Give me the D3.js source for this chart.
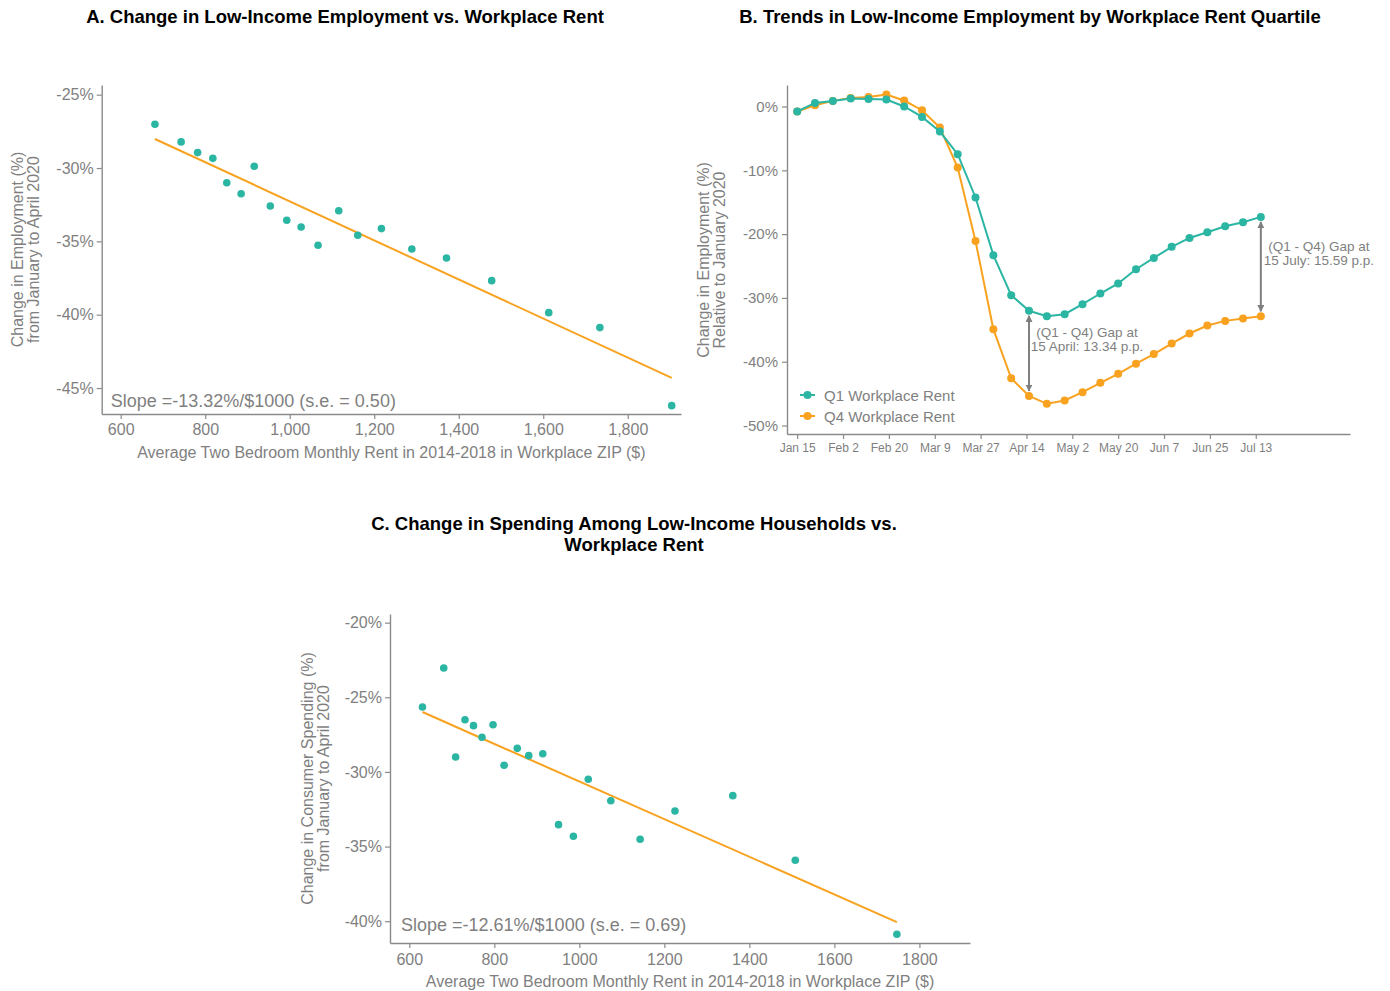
<!DOCTYPE html>
<html>

<head>
  <meta charset='utf-8'>
  <script type="text/javascript" src="https://cdn.jsdelivr.net/npm/d3@7/dist/d3.min.js"></script>
  <style>
    body { margin: 0; background: #fff; }
    text { font-family: "Liberation Sans", Arial, sans-serif; }
  </style>
</head>

<body>
</body>
<script>
  // panel A: low-income employment change vs workplace rent (binned)
  let rentA = [681, 743, 782, 818, 851, 885, 916, 954, 993, 1027, 1067, 1116, 1161, 1217, 1289, 1371, 1478, 1613, 1734, 1904]
  let empA = [-27.02, -28.22, -28.95, -29.34, -31.0, -31.75, -29.88, -32.59, -33.56, -34.02, -35.27, -32.91, -34.58, -34.13, -35.52, -36.13, -37.68, -39.86, -40.88, -46.2]
  let slopeA = -13.32
  let seA = 0.50
  let interceptA = -18.95

  // panel C: low-income spending change vs workplace rent
  let rentC = [631, 681, 709, 731, 751, 771, 797, 823, 854, 881, 914, 951, 986, 1021, 1074, 1143, 1225, 1361, 1508, 1747]
  let spendC = [-25.65, -23.04, -29.0, -26.5, -26.9, -27.68, -26.84, -29.55, -28.42, -28.91, -28.78, -33.53, -34.31, -30.49, -31.93, -34.51, -32.62, -31.59, -35.92, -40.87]
  let slopeC = -12.61
  let seC = 0.69
  let interceptC = -18.03

  // panel B: weekly employment by rent quartile
  let datesB = ["2020-01-15", "2020-01-22", "2020-01-29", "2020-02-05", "2020-02-12", "2020-02-19", "2020-02-26",
    "2020-03-04", "2020-03-11", "2020-03-18", "2020-03-25", "2020-04-01", "2020-04-08", "2020-04-15",
    "2020-04-22", "2020-04-29", "2020-05-06", "2020-05-13", "2020-05-20", "2020-05-27", "2020-06-03",
    "2020-06-10", "2020-06-17", "2020-06-24", "2020-07-01", "2020-07-08", "2020-07-15"]
  let q1B = [-0.78, 0.56, 0.88, 1.25, 1.19, 1.10, 0.0, -1.63, -3.92, -7.48, -14.26, -23.3, -29.57, -32.02,
    -32.87, -32.55, -30.99, -29.31, -27.74, -25.5, -23.73, -22.0, -20.6, -19.7, -18.76, -18.13, -17.30]
  let q4B = [-0.78, 0.2, 0.88, 1.35, 1.5, 1.88, 0.94, -0.58, -3.29, -9.56, -21.07, -34.9, -42.6, -45.36,
    -46.6, -46.08, -44.78, -43.3, -41.9, -40.3, -38.8, -37.15, -35.58, -34.33, -33.6, -33.23, -32.89]
  let seriesNames = ["Q1 Workplace Rent", "Q4 Workplace Rent"]
  let tickDatesB = ["2020-01-15", "2020-02-02", "2020-02-20", "2020-03-09", "2020-03-27", "2020-04-14",
    "2020-05-02", "2020-05-20", "2020-06-07", "2020-06-25", "2020-07-13"]
  let gapDates = ["2020-04-15", "2020-07-15"]
  let gapLabels = [["(Q1 - Q4) Gap at", "15 April: 13.34 p.p."], ["(Q1 - Q4) Gap at", "15 July: 15.59 p.p."]]

  let teal = "#2bb5a3"
  let orange = "#f8a21f"
  let grey = "#7f7f7f"
  let axisCol = "#8a8a8a"

  let w = 1390
  let h = 991
  let svg = d3.select('body')
    .append('svg')
    .attr('width', w)
    .attr('height', h)

  let parse = d3.timeParse("%Y-%m-%d")

  function styleAxis(g, fs) {
    g.select(".domain").attr("stroke", axisCol).attr("stroke-width", 1.4)
    g.selectAll(".tick line").attr("stroke", axisCol).attr("stroke-width", 1.2)
    g.selectAll(".tick text").attr("fill", grey).attr("font-size", fs)
      .attr("font-family", '"Liberation Sans", Arial, sans-serif')
  }

  function title(lines, cx, y0) {
    lines.forEach(function (t, i) {
      svg.append("text")
        .attr("x", cx)
        .attr("y", y0 + i * 21)
        .attr("text-anchor", "middle")
        .attr("font-size", 18.5)
        .attr("font-weight", "bold")
        .attr("fill", "#000")
        .text(t)
    })
  }

  function yTitle(lines, x0, cy) {
    lines.forEach(function (t, i) {
      svg.append("text")
        .attr("transform", "translate(" + (x0 + i * 16) + "," + cy + ") rotate(-90)")
        .attr("text-anchor", "middle")
        .attr("font-size", 16)
        .attr("fill", grey)
        .text(t)
    })
  }

  // scatter with fitted line (panels A and C)
  function scatter(p) {
    let xScale = d3.scaleLinear().domain(p.xDom).range([p.left, p.right])
    let yScale = d3.scaleLinear().domain(p.yDom).range([p.bottom, p.top])

    let xAxis = d3.axisBottom(xScale).tickValues(d3.range(600, 1801, 200))
      .tickFormat(p.xFmt).tickSize(5).tickPadding(p.xPad).tickSizeOuter(0)
    let yAxis = d3.axisLeft(yScale).tickValues(p.yTicks)
      .tickFormat(d => d + "%").tickSize(5).tickPadding(3).tickSizeOuter(0)

    svg.append("g").attr("transform", "translate(0," + p.bottom + ")").call(xAxis).call(styleAxis, 16)
    svg.append("g").attr("transform", "translate(" + p.left + ",0)").call(yAxis).call(styleAxis, 16)

    let ends = d3.extent(p.xs)
    svg.append("line")
      .attr("x1", xScale(ends[0]))
      .attr("y1", yScale(p.intercept + p.slope * ends[0] / 1000))
      .attr("x2", xScale(ends[1]))
      .attr("y2", yScale(p.intercept + p.slope * ends[1] / 1000))
      .attr("stroke", orange)
      .attr("stroke-width", 2)

    svg.append("g").selectAll("circle")
      .data(p.xs)
      .enter()
      .append("circle")
      .attr("cx", d => xScale(d))
      .attr("cy", (d, i) => yScale(p.ys[i]))
      .attr("r", 3.8)
      .attr("fill", teal)

    svg.append("text")
      .attr("x", p.left + p.slopeX)
      .attr("y", p.bottom - p.slopeOff)
      .attr("font-size", 18)
      .attr("fill", grey)
      .text("Slope =" + p.slope.toFixed(2) + "%/$1000 (s.e. = " + p.se.toFixed(2) + ")")

    svg.append("text")
      .attr("x", (p.left + p.right) / 2)
      .attr("y", p.bottom + 44)
      .attr("text-anchor", "middle")
      .attr("font-size", 16)
      .attr("fill", grey)
      .text("Average Two Bedroom Monthly Rent in 2014-2018 in Workplace ZIP ($)")
  }

  // A
  title(["A. Change in Low-Income Employment vs. Workplace Rent"], 345, 22.5)
  scatter({
    xs: rentA, ys: empA, slope: slopeA, se: seA, intercept: interceptA,
    left: 101.7, right: 681, top: 85, bottom: 414,
    xDom: [555, 1926], yDom: [-46.77, -24.34], yTicks: [-45, -40, -35, -30, -25],
    xFmt: d3.format(","), xPad: 5, slopeOff: 7, slopeX: 9
  })
  yTitle(["Change in Employment (%)", "from January to April 2020"], 23, 249.5)

  // C
  title(["C. Change in Spending Among Low-Income Households vs.", "Workplace Rent"], 634, 529.5)
  scatter({
    xs: rentC, ys: spendC, slope: slopeC, se: seC, intercept: interceptC,
    left: 390, right: 970, top: 614, bottom: 943,
    xDom: [554.6, 1919], yDom: [-41.46, -19.42], yTicks: [-40, -35, -30, -25, -20],
    xFmt: d3.format("d"), xPad: 6, slopeOff: 12.5, slopeX: 11
  })
  yTitle(["Change in Consumer Spending (%)", "from January to April 2020"], 313, 778.5)

  // B
  title(["B. Trends in Low-Income Employment by Workplace Rent Quartile"], 1030, 22.5)
  let bL = 787, bR = 1350, bT = 85, bB = 434
  let xB = d3.scaleTime().domain([parse("2020-01-11"), parse("2020-08-19")]).range([bL, bR])
  let yB = d3.scaleLinear().domain([-51.33, 3.37]).range([bB, bT])

  let xAxisB = d3.axisBottom(xB).tickValues(tickDatesB.map(parse))
    .tickFormat(d3.timeFormat("%b %-d")).tickSize(5).tickPadding(4).tickSizeOuter(0)
  let yAxisB = d3.axisLeft(yB).tickValues([-50, -40, -30, -20, -10, 0])
    .tickFormat(d => d + "%").tickSize(5).tickPadding(4).tickSizeOuter(0)
  svg.append("g").attr("transform", "translate(0," + bB + ")").call(xAxisB).call(styleAxis, 12)
  svg.append("g").attr("transform", "translate(" + bL + ",0)").call(yAxisB).call(styleAxis, 15)
  yTitle(["Change in Employment (%)", "Relative to January 2020"], 709, 260)

  let seriesB = [
    { name: seriesNames[0], vals: q1B, col: teal },
    { name: seriesNames[1], vals: q4B, col: orange }
  ]
  let line = d3.line()
    .x((d, i) => xB(parse(datesB[i])))
    .y(d => yB(d))

  seriesB.slice().reverse().forEach(function (s) {
    let g = svg.append("g")
    g.append("path")
      .attr("d", line(s.vals))
      .attr("fill", "none")
      .attr("stroke", s.col)
      .attr("stroke-width", 2)
    g.selectAll("circle")
      .data(s.vals)
      .enter()
      .append("circle")
      .attr("cx", (d, i) => xB(parse(datesB[i])))
      .attr("cy", d => yB(d))
      .attr("r", 4)
      .attr("fill", s.col)
  })

  // gap arrows
  svg.append("defs").append("marker")
    .attr("id", "head")
    .attr("viewBox", "0 0 10 10")
    .attr("refX", 9).attr("refY", 5)
    .attr("markerWidth", 3.5).attr("markerHeight", 3.5)
    .attr("orient", "auto-start-reverse")
    .append("path")
    .attr("d", "M0,0L10,5L0,10z")
    .attr("fill", grey)

  gapDates.forEach(function (ds, k) {
    let i = datesB.indexOf(ds)
    let x = xB(parse(ds))
    let y1 = yB(q1B[i]), y2 = yB(q4B[i])
    svg.append("line")
      .attr("x1", x).attr("y1", y1 + 5)
      .attr("x2", x).attr("y2", y2 - 5)
      .attr("stroke", grey)
      .attr("stroke-width", 2)
      .attr("marker-start", "url(#head)")
      .attr("marker-end", "url(#head)")
    let mid = (y1 + y2) / 2
    gapLabels[k].forEach(function (t, j) {
      svg.append("text")
        .attr("x", x + 58)
        .attr("y", mid - 16 + j * 14)
        .attr("text-anchor", "middle")
        .attr("font-size", 13.5)
        .attr("fill", grey)
        .text(t)
    })
  })

  // legend
  let legend = svg.append("g").selectAll("g")
    .data(seriesB)
    .enter()
    .append("g")
    .attr("transform", (d, i) => "translate(800," + (395 + i * 21) + ")")
  legend.append("line")
    .attr("x1", 0).attr("x2", 15)
    .attr("stroke", d => d.col)
    .attr("stroke-width", 2)
  legend.append("circle")
    .attr("cx", 7.5).attr("r", 4)
    .attr("fill", d => d.col)
  legend.append("text")
    .attr("x", 24).attr("y", 5.5)
    .attr("font-size", 15)
    .attr("fill", grey)
    .text(d => d.name)
</script>

</html>
